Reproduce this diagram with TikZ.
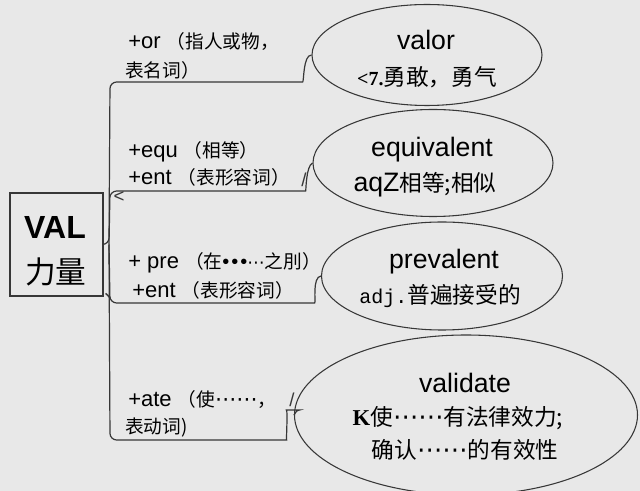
\documentclass[tikz,border=0pt]{standalone}
\usepackage{fontspec}
\setmainfont{Liberation Sans}
\newfontfamily\cjk{Noto Sans CJK SC}
\newfontfamily\dvs{DejaVu Sans}
\newfontfamily\serifb{Liberation Serif}
\newfontfamily\monof{Liberation Mono}
\usetikzlibrary{shapes.geometric}
\definecolor{bg}{RGB}{232,232,232}
\definecolor{ln}{RGB}{55,55,55}
\newcommand{\zs}[1]{{\cjk\fontsize{14}{16}\selectfont #1}}
\newcommand{\zb}[1]{{\cjk\fontsize{17}{20}\selectfont #1}}
\newcommand{\dotsS}{{\dvs\fontsize{16}{18}\selectfont ⋯⋯}}
\newcommand{\dotsB}{{\dvs\fontsize{19}{21}\selectfont ⋯⋯}}
\tikzset{
  conn/.style={draw=ln,line width=0.9pt,rounded corners=5pt},
  oval/.style={draw=ln,line width=0.8pt,ellipse,inner sep=0pt},
  lab/.style={anchor=west,inner sep=0pt,font=\fontsize{16.5}{18}\selectfont},
  big/.style={inner sep=0pt,font=\fontsize{20}{22}\selectfont},
  stray/.style={inner sep=0pt,font=\fontsize{14}{16}\selectfont,text=ln}
}
\begin{document}
\begin{tikzpicture}[x=0.75pt,y=-0.75pt]
\fill[bg] (0,0) rectangle (640,491);
\useasboundingbox (0,0) rectangle (640,491);
% root
\node[draw=ln,line width=1.1pt,minimum width=93*0.75pt,minimum height=103*0.75pt,inner sep=0pt] (box) at (56.5,244.5) {};
\node[inner sep=0pt,font=\fontsize{24}{26}\selectfont\bfseries] (val) at (55,227) {VAL};
\node[inner sep=0pt] (lq) at (56,272) {{\cjk\fontsize{23}{25}\selectfont 力量}};
% ellipses
\node[oval,minimum width=230*0.75pt,minimum height=101*0.75pt] (e1) at (427,55) {};
\node[oval,minimum width=240*0.75pt,minimum height=107*0.75pt] (e2) at (433,163) {};
\node[oval,minimum width=241*0.75pt,minimum height=108*0.75pt] (e3) at (442,276) {};
\node[oval,minimum width=343*0.75pt,minimum height=160*0.75pt] (e4) at (466,415) {};
% ellipse texts
\node[big] (t1a) at (426,40) {valor};
\node[inner sep=0pt] (t1b) at (427,77) {{\serifb\bfseries\fontsize{15}{17}\selectfont <7.}\zb{勇敢，勇气}};
\node[big] (t2a) at (432,150) {equivalent};
\node[inner sep=0pt] (t2b) at (425,185) {{\fontsize{20}{22}\selectfont aqZ}\zb{相等;相似}};
\node[big] (t3a) at (444,262) {prevalent};
\node[inner sep=0pt] (t3b) at (440,296) {{\monof\fontsize{15}{17}\selectfont adj.}\zb{普遍接受的}};
\node[big] (t4a) at (465,383) {validate};
\node[inner sep=0pt] (t4b) at (458,418) {{\serifb\bfseries\fontsize{17}{19}\selectfont K}\zb{使}\dotsB\zb{有法律效力;}};
\node[inner sep=0pt] (t4c) at (465,450) {\zb{确认}\dotsB\zb{的有效性}};
% branch labels
\node[lab] (l1a) at (128,42) {+or \zs{（指人或物，}};
\node[lab] (l1b) at (125,70) {\zs{表名词）}};
\node[lab] (l2a) at (128,152) {+equ \zs{（相等）}};
\node[lab] (l2b) at (128,177) {+ent \zs{（表形容词）}};
\node[stray] (m2) at (304,180) {/};
\node[stray] (m2b) at (119,197) {<};
\node[lab] (l3a) at (128,263) {+ pre \zs{（在}{\fontsize{15}{17}\selectfont •\hspace{1.5pt}•\hspace{1.5pt}•}{\dvs\fontsize{13}{15}\selectfont ⋯}\zs{之刖）}};
\node[stray] (m3) at (114,296) {\zs{、}};
\node[lab] (l3b) at (132,290) {+ent \zs{（表形容词）}};
\node[lab] (l4a) at (128,400) {+ate \zs{（使}\dotsS\zs{，}};
\node[stray] (m4) at (292,400) {/};
\node[lab] (l4b) at (125,427) {\zs{表动词)}};
% connectors
\coordinate (hub) at (109,244.5);
\draw[conn] (box.east) -- (hub) -- (110,82) -- (296,82) .. controls (304,82) and (303,55) .. (e1.west);
\draw[conn] (hub) -- (110,191) -- (299,191) .. controls (306,191) and (306,166) .. (e2.west);
\draw[conn] (hub) -- (110,303) -- (308,303) .. controls (316,303) and (312,277) .. (e3.west);
\draw[conn] (hub) -- (110,440) -- (280,440) .. controls (286,440) and (288,410) .. (293,410) .. controls (296,410) and (295,414) .. (e4.west);
\end{tikzpicture}
\end{document}
